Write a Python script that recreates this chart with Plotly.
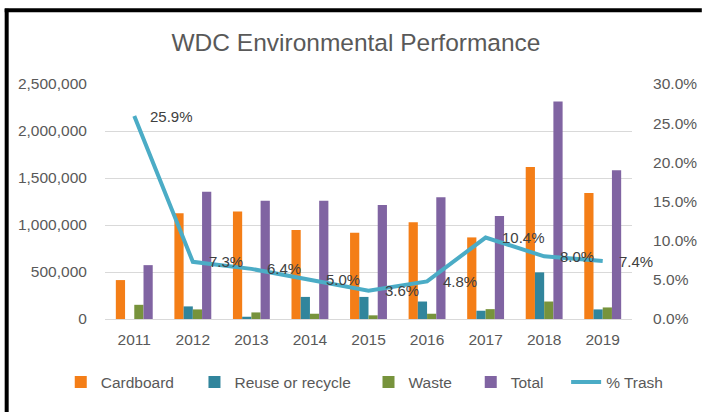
import plotly.graph_objects as go

years = ["2011", "2012", "2013", "2014", "2015", "2016", "2017", "2018", "2019"]
cardboard = [414000, 1125000, 1143000, 946000, 918000, 1030000, 868000, 1617000, 1340000]
reuse = [0, 134000, 24000, 235000, 235000, 186000, 88000, 496000, 102000]
waste = [151000, 102000, 70000, 56000, 39000, 56000, 105000, 186000, 123000]
total = [573000, 1354000, 1259000, 1259000, 1213000, 1294000, 1097000, 2313000, 1582000]
pct_trash = [0.259, 0.073, 0.064, 0.050, 0.036, 0.048, 0.104, 0.080, 0.074]

FONT = "Liberation Sans"
GRAY = "#595959"

W, H = 709, 412
L, R, T, B = 105, 68, 84, 91
pw, ph = W - L - R, H - T - B

def px_x(x):
    return (x - L) / pw

def px_y(y):
    return (H - B - y) / ph

# legend entry text starts (px) as in the reference
legend_text_x = [101, 237, 414, 518, 615]
legend_names = ["legend", "legend2", "legend3", "legend4", "legend5"]

fig = go.Figure()
bar_specs = [
    ("Cardboard", cardboard, "#F47E17"),
    ("Reuse or recycle", reuse, "#31859C"),
    ("Waste", waste, "#77933C"),
    ("Total", total, "#8064A2"),
]
for i, (name, vals, col) in enumerate(bar_specs):
    fig.add_trace(go.Bar(x=years, y=vals, name=name, legend=legend_names[i], showlegend=True,
                         marker=dict(color=col, line=dict(width=0))))

fig.add_trace(go.Scatter(x=years, y=pct_trash, name="% Trash", mode="lines", legend=legend_names[4],
                         showlegend=True, line=dict(color="#4BACC6", width=4), yaxis="y2"))

annotations = [
    dict(x=i, y=v, xref="x", yref="y2", text=f"{v*100:.1f}%", showarrow=False,
         xanchor="left", yanchor="middle", xshift=14,
         font=dict(family=FONT, size=15, color="#404040"))
    for i, v in enumerate(pct_trash)
]

legends = {}
for ln, tx in zip(legend_names, legend_text_x):
    legends[ln] = dict(orientation="h", xref="paper", x=px_x(tx - 41), xanchor="left",
                       yref="paper", y=px_y(385), yanchor="middle",
                       font=dict(size=15.5, color=GRAY, family=FONT), bgcolor="rgba(0,0,0,0)")

fig.update_layout(
    width=W, height=H,
    showlegend=True,
    margin=dict(l=L, r=R, t=T, b=B, pad=0),
    paper_bgcolor="white", plot_bgcolor="white",
    barmode="group", bargap=0.37, bargroupgap=0,
    font=dict(family=FONT, color=GRAY, size=15),
    title=dict(text="WDC Environmental Performance", x=356 / W, xref="container", xanchor="center",
               y=1 - 42 / H, yref="container", yanchor="middle",
               font=dict(family=FONT, size=24.5, color=GRAY)),
    xaxis=dict(type="category", range=[-0.5, len(years) - 0.5], showgrid=False,
               showline=True, linecolor="#D9D9D9", linewidth=1,
               ticks="outside", ticklen=6, tickcolor="rgba(0,0,0,0)",
               tickfont=dict(size=15.5, color=GRAY)),
    yaxis=dict(range=[0, 2500000], dtick=500000, tickformat=",", showgrid=True,
               gridcolor="#D9D9D9", zeroline=False, showline=False,
               ticks="outside", ticklen=14, tickcolor="rgba(0,0,0,0)",
               tickfont=dict(size=15.5, color=GRAY)),
    yaxis2=dict(range=[0, 0.30], dtick=0.05, tickformat=".1%", overlaying="y", side="right",
                showgrid=False, zeroline=False, showline=False,
                ticks="outside", ticklen=17, tickcolor="rgba(0,0,0,0)",
                tickfont=dict(size=15.5, color=GRAY)),
    annotations=annotations,
    shapes=[
        dict(type="line", xref="paper", yref="paper", x0=px_x(3), x1=px_x(712),
             y0=px_y(9.5), y1=px_y(9.5), line=dict(color="black", width=4)),
        dict(type="line", xref="paper", yref="paper", x0=px_x(5), x1=px_x(5),
             y0=px_y(8), y1=px_y(415), line=dict(color="black", width=4)),
    ],
    **legends,
)

fig.write_html("out.html", config={"displayModeBar": False},
               post_script="document.body.style.margin='0';")
